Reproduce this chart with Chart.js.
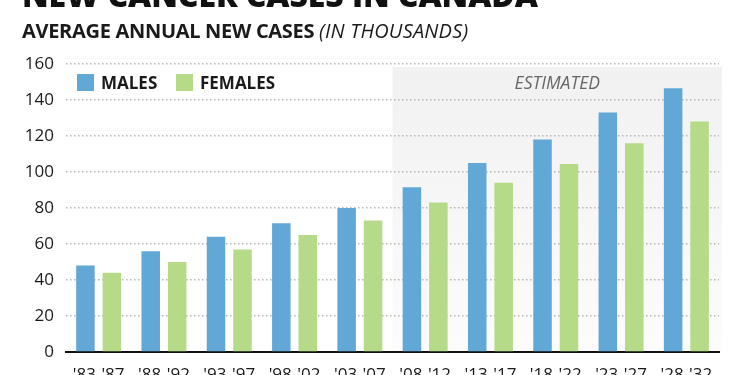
<!DOCTYPE html>
<html>
<head>
<meta charset="utf-8">
<script src="https://cdn.jsdelivr.net/npm/chart.js@4/dist/chart.umd.min.js"></script>
<style>
  html, body { margin: 0; padding: 0; background: #fff; }
  #wrap { position: relative; width: 750px; height: 375px; overflow: hidden; font-family: "Open Sans", sans-serif; }
  #chart { position: absolute; left: 0; top: 0; }
  .title { position: absolute; left: 22px; top: -27px; font-size: 32px; font-weight: 800; color: #111; white-space: nowrap; letter-spacing: -0.1px; }
  .subtitle { position: absolute; left: 22px; top: 17px; font-size: 20px; color: #1a1a1a; white-space: nowrap; letter-spacing: -0.3px; }
  .subtitle b { font-weight: 700; }
  .subtitle i { font-weight: 400; letter-spacing: 0.2px; }
  .legend { position: absolute; top: 74px; height: 17px; display: flex; align-items: center; font-size: 17px; font-weight: 700; color: #1a1a1a; letter-spacing: 0px; }
  .legend .sw { width: 17px; height: 17px; margin-right: 7px; }
</style>
</head>
<body>
<div id="wrap">
  <canvas id="chart" width="750" height="375"></canvas>
  <div class="title">NEW CANCER CASES IN CANADA</div>
  <div class="subtitle"><b>AVERAGE ANNUAL NEW CASES</b> <i>(IN THOUSANDS)</i></div>
  <div class="legend" id="lg1" style="left:77px"><div class="sw" style="background:#62a8d6"></div>MALES</div>
  <div class="legend" id="lg2" style="left:176px"><div class="sw" style="background:#b5da88"></div>FEMALES</div>
</div>
<script>
const categories = ["'83-'87", "'88-'92", "'93-'97", "'98-'02", "'03-'07", "'08-'12", "'13-'17", "'18-'22", "'23-'27", "'28-'32"];
const males   = [48, 56, 64, 71.5, 80, 91.5, 105, 118, 133, 146.5];
const females = [44, 50, 57, 65, 73, 83, 94, 104.5, 116, 128];
const yTicks  = [0, 20, 40, 60, 80, 100, 120, 140, 160];
const estimatedFrom = 5;
const estimatedLabel = "ESTIMATED";

const FONT = '"Open Sans", sans-serif';

const shadePlugin = {
  id: 'shade',
  beforeDraw(chart) {
    const {ctx, chartArea, scales} = chart;
    const x = scales.x;
    const half = (x.getPixelForValue(1) - x.getPixelForValue(0)) / 2;
    const left = x.getPixelForValue(estimatedFrom) - half;
    const top = chartArea.top + 3;
    const right = chartArea.right + 3;
    const g = ctx.createLinearGradient(0, top, 0, chartArea.bottom);
    g.addColorStop(0, '#f1f1f1');
    g.addColorStop(1, '#fcfcfc');
    ctx.save();
    ctx.fillStyle = g;
    ctx.fillRect(left, top, right - left, chartArea.bottom - top);
    ctx.font = 'italic 17.5px ' + FONT;
    ctx.fillStyle = '#666';
    ctx.textAlign = 'center';
    ctx.textBaseline = 'alphabetic';
    ctx.fillText(estimatedLabel, (left + right) / 2, chartArea.top + 25);
    ctx.restore();
  }
};

new Chart(document.getElementById('chart'), {
  type: 'bar',
  data: {
    labels: categories,
    datasets: [
      { label: 'MALES', data: males, backgroundColor: '#62a8d6', barPercentage: 0.70, categoryPercentage: 0.81 },
      { label: 'FEMALES', data: females, backgroundColor: '#b5da88', barPercentage: 0.70, categoryPercentage: 0.81 }
    ]
  },
  options: {
    responsive: false,
    animation: false,
    layout: { padding: { top: 64, right: 31, left: 0, bottom: 0 } },
    plugins: { legend: { display: false }, tooltip: { enabled: false } },
    scales: {
      x: {
        grid: { display: true, drawOnChartArea: false, drawTicks: false },
        border: { display: true, color: '#111', width: 2 },
        ticks: { color: '#1a1a1a', font: { family: FONT, size: 17 }, padding: 13, maxRotation: 0, autoSkip: false },
        afterFit(scale) { scale.height = 23; }
      },
      y: {
        min: 0, max: 160,
        afterBuildTicks(scale) { scale.ticks = yTicks.map(v => ({ value: v })); },
        grid: { color: '#b5b5b5', lineWidth: 1.5, drawTicks: false },
        border: { display: false, dash: [1.5, 2.5] },
        ticks: { color: '#1a1a1a', font: { family: FONT, size: 17 }, padding: 12 },
        afterFit(scale) { scale.width = 66; }
      }
    }
  },
  plugins: [shadePlugin]
});
</script>
</body>
</html>
